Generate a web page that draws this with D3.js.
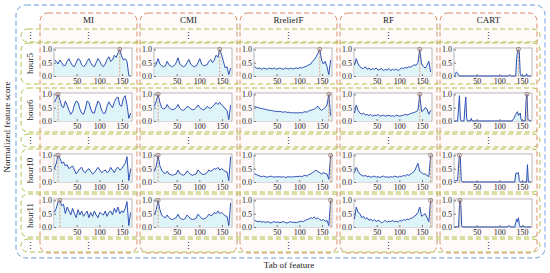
<!DOCTYPE html>
<html>
<head>
<meta charset="utf-8">
<script src="https://cdn.jsdelivr.net/npm/d3@7"></script>
<style>
  body { margin: 0; background: #fff; }
  svg { display: block; }
  text { font-family: "Liberation Serif", "Times New Roman", serif; fill: #222; }
</style>
</head>
<body>
<svg id="FeatureChart"></svg>
<script>
// feature index (tab of feature) at which the scores are read
var featureTab = [1,5,9,13,17,21,25,29,33,37,41,45,49,53,57,61,65,69,73,77,81,85,89,93,97,101,105,109,113,117,121,125,129,133,137,141,145,149,153,157,161,165,169];

var methods = ["MI", "CMI", "RreliefF", "RF", "CART"];
var hours = ["hour5", "hour6", "hour10", "hour11"];
var yTicks = [0, 0.5, 1];
var xTicks = [50, 100, 150];

// hour5
var miHour5 = [0.60,0.55,0.45,0.60,0.50,0.38,0.40,0.55,0.65,0.50, 0.38,0.35,0.50,0.65,0.60,0.42,0.35,0.40,0.55,0.65, 0.50,0.38,0.35,0.50,0.65,0.55,0.40,0.35,0.45,0.62, 0.72,0.55,0.60,0.78,0.70,0.85,1.00,0.75,0.60,0.65, 0.55,0.02,0.00];
var cmiHour5 = [0.35,0.45,0.65,0.45,0.38,0.35,0.38,0.55,0.42,0.38, 0.35,0.40,0.50,0.68,0.45,0.38,0.35,0.38,0.50,0.62, 0.45,0.38,0.35,0.38,0.50,0.65,0.45,0.38,0.40,0.42, 0.55,0.62,0.50,0.60,0.78,0.70,1.00,0.80,0.55,0.30, 0.35,0.05,0.30];
var relHour5 = [0.35,0.30,0.28,0.30,0.25,0.30,0.28,0.25,0.30,0.28, 0.27,0.30,0.25,0.28,0.30,0.27,0.25,0.30,0.28,0.26, 0.30,0.27,0.28,0.30,0.28,0.32,0.30,0.33,0.35,0.38, 0.42,0.45,0.55,0.62,0.72,0.85,1.00,0.60,0.45,0.55, 0.35,0.05,0.60];
var rfHour5 = [0.40,0.65,0.45,0.35,0.30,0.28,0.35,0.25,0.30,0.22, 0.28,0.25,0.30,0.22,0.25,0.28,0.20,0.25,0.22,0.28, 0.20,0.25,0.22,0.27,0.20,0.25,0.30,0.28,0.32,0.30, 0.35,0.33,0.38,0.42,0.40,0.50,1.00,0.45,0.35,0.30, 0.40,0.55,0.15];
var cartHour5 = [[1,0],[3,0.05],[5,0.15],[8,0.1],[10,0.02],[12,0],[120,0],[123,0.05],[125,0],[136,0],[138,0.6],[140,0.95],[142,1],[144,0.9],[146,0.1],[148,0],[158,0],[160,0.08],[162,0],[170,0]];

// hour6
var miHour6 = [0.70,0.85,1.00,0.80,0.55,0.50,0.75,0.60,0.40,0.25, 0.35,0.60,0.75,0.70,0.45,0.30,0.25,0.45,0.75,0.70, 0.45,0.30,0.30,0.55,0.75,0.65,0.40,0.28,0.30,0.55, 0.72,0.60,0.50,0.70,0.85,0.90,0.60,0.55,0.85,0.95, 0.60,0.10,0.30];
var cmiHour6 = [0.55,0.75,1.00,0.70,0.50,0.45,0.48,0.62,0.50,0.45, 0.42,0.45,0.50,0.62,0.48,0.42,0.40,0.45,0.55,0.52, 0.45,0.42,0.44,0.50,0.60,0.50,0.45,0.42,0.45,0.55, 0.50,0.47,0.55,0.60,0.70,0.62,0.70,0.60,0.55,0.45, 0.40,0.05,0.60];
var relHour6 = [0.55,0.52,0.50,0.48,0.47,0.45,0.44,0.42,0.40,0.40, 0.38,0.37,0.36,0.35,0.36,0.34,0.33,0.35,0.32,0.33, 0.30,0.32,0.30,0.31,0.30,0.32,0.30,0.33,0.35,0.33, 0.38,0.40,0.42,0.45,0.50,0.55,0.45,0.40,0.45,0.50, 0.60,1.00,0.20];
var rfHour6 = [0.30,0.60,0.40,0.30,0.25,0.30,0.22,0.25,0.20,0.25, 0.18,0.22,0.20,0.25,0.18,0.20,0.22,0.18,0.20,0.22, 0.18,0.20,0.17,0.22,0.20,0.18,0.20,0.22,0.25,0.22, 0.25,0.28,0.30,0.32,0.35,0.40,1.00,0.35,0.40,0.50, 0.45,0.25,0.40];
var cartHour6 = [[1,0],[8,0],[10,0.5],[12,0.95],[14,0.1],[16,0],[22,0],[24,0.5],[26,0.9],[28,0.1],[30,0],[36,0],[38,0.1],[40,0],[128,0],[132,0.1],[136,0.25],[140,0.35],[142,0.2],[146,0.3],[148,0.05],[150,0],[157,0],[159,0.8],[161,1],[163,0.05],[170,0]];

// hour10
var miHour10 = [0.50,0.70,1.00,0.90,0.70,0.75,0.60,0.65,0.50,0.55, 0.60,0.45,0.30,0.40,0.50,0.55,0.40,0.35,0.45,0.50, 0.40,0.30,0.35,0.45,0.55,0.45,0.35,0.40,0.45,0.35, 0.40,0.55,0.45,0.35,0.50,0.55,0.45,0.50,0.60,0.70, 0.95,0.05,0.50];
var cmiHour10 = [0.40,0.60,1.00,0.60,0.45,0.35,0.32,0.40,0.30,0.28, 0.25,0.28,0.30,0.45,0.32,0.28,0.25,0.30,0.42,0.35, 0.28,0.25,0.28,0.30,0.45,0.38,0.30,0.28,0.30,0.35, 0.45,0.40,0.45,0.50,0.48,0.55,0.45,0.50,0.45,0.40, 0.38,0.05,0.95];
var relHour10 = [0.30,0.28,0.25,0.22,0.20,0.22,0.20,0.18,0.20,0.22, 0.20,0.18,0.20,0.19,0.20,0.18,0.20,0.17,0.19,0.20, 0.18,0.20,0.19,0.21,0.20,0.22,0.20,0.23,0.25,0.22, 0.28,0.30,0.35,0.40,0.45,0.38,0.35,0.30,0.35,0.32, 0.30,0.10,1.00];
var rfHour10 = [0.35,0.55,0.40,0.30,0.25,0.22,0.25,0.20,0.22,0.18, 0.20,0.22,0.18,0.20,0.17,0.20,0.22,0.18,0.20,0.17, 0.20,0.18,0.22,0.20,0.18,0.22,0.20,0.25,0.22,0.28, 0.25,0.30,0.35,0.40,0.55,0.70,0.40,0.35,0.30,0.30, 0.25,0.20,1.00];
var cartHour10 = [[1,0.05],[8,0.05],[10,0.6],[12,1.0],[14,0.9],[16,0.05],[18,0],[134,0],[136,0.3],[138,0.35],[140,0.3],[142,0.35],[144,0.05],[146,0],[160,0],[162,0.65],[164,0],[170,0]];

// hour11
var miHour11 = [0.55,0.70,0.95,1.00,0.80,0.85,0.50,0.75,0.60,0.45, 0.70,0.50,0.35,0.65,0.45,0.60,0.40,0.50,0.60,0.35, 0.55,0.40,0.60,0.45,0.35,0.55,0.50,0.45,0.60,0.40, 0.55,0.60,0.45,0.70,0.55,0.75,0.50,0.60,0.55,0.70, 0.95,0.05,0.55];
var cmiHour11 = [0.45,0.65,1.00,0.65,0.45,0.38,0.35,0.45,0.35,0.30, 0.28,0.32,0.35,0.48,0.35,0.30,0.28,0.32,0.45,0.38, 0.30,0.28,0.30,0.33,0.48,0.40,0.32,0.30,0.32,0.38, 0.48,0.42,0.45,0.55,0.50,0.60,0.50,0.55,0.48,0.42, 0.40,0.05,0.90];
var relHour11 = [0.25,0.22,0.20,0.22,0.18,0.20,0.17,0.20,0.18,0.15, 0.18,0.20,0.17,0.19,0.16,0.18,0.20,0.17,0.15,0.18, 0.20,0.17,0.18,0.16,0.19,0.20,0.22,0.20,0.25,0.28, 0.30,0.35,0.32,0.38,0.30,0.35,0.28,0.25,0.28,0.22, 0.25,0.05,1.00];
var rfHour11 = [0.30,0.75,0.55,0.50,0.35,0.40,0.30,0.35,0.25,0.30, 0.22,0.28,0.20,0.25,0.22,0.15,0.20,0.25,0.18,0.22, 0.20,0.25,0.20,0.22,0.18,0.25,0.22,0.28,0.25,0.30, 0.28,0.32,0.35,0.40,0.45,0.55,0.75,0.40,0.45,0.50, 0.35,0.20,1.00];
var cartHour11 = [[1,0],[10,0],[12,0.8],[13,1.0],[15,0.85],[17,0.05],[19,0],[118,0],[120,0.05],[122,0.05],[124,0],[134,0],[136,0.15],[138,0.3],[140,0.2],[142,0.35],[144,0.1],[146,0],[150,0],[152,0.05],[154,0],[170,0]];

var scores = [
	[miHour5, cmiHour5, relHour5, rfHour5, cartHour5],
	[miHour6, cmiHour6, relHour6, rfHour6, cartHour6],
	[miHour10, cmiHour10, relHour10, rfHour10, cartHour10],
	[miHour11, cmiHour11, relHour11, rfHour11, cartHour11]
];

var svgWidth = 550, svgHeight = 273;
var colX = [40, 140, 240, 340, 440], colW = 97;
var rowTop = [43, 88, 149, 194], rowH = [41, 44, 43, 43];
var dotsTop = [29, 134, 239], dotsH = 13;
var plotW = 78, plotH = 28;

var svg = d3.select("#FeatureChart")
	.attr("width", svgWidth)
	.attr("height", svgHeight);

// outer frame
svg.append("rect")
	.attr("x", 16).attr("y", 5)
	.attr("width", 529).attr("height", 253)
	.attr("rx", 10)
	.attr("fill", "none")
	.attr("stroke", "#6aa0dc")
	.attr("stroke-width", 1)
	.attr("stroke-dasharray", "5,3");

// method columns
svg.selectAll(".col")
	.data(methods)
	.enter().append("rect")
		.attr("class", "col")
		.attr("x", (d, i) => colX[i])
		.attr("y", 13)
		.attr("width", colW)
		.attr("height", 240)
		.attr("rx", 8)
		.attr("fill", "rgba(250,225,225,0.18)")
		.attr("stroke", "#dc8f6a")
		.attr("stroke-width", 1)
		.attr("stroke-dasharray", "5,3");

svg.selectAll(".colTitle")
	.data(methods)
	.enter().append("text")
		.attr("class", "colTitle")
		.attr("x", (d, i) => colX[i] + colW / 2)
		.attr("y", 23)
		.attr("text-anchor", "middle")
		.attr("font-size", 9)
		.text(d => d);

// hour rows and dotted rows
var rowBoxes = rowTop.map((t, i) => ({top: t, h: rowH[i]}))
	.concat(dotsTop.map(t => ({top: t, h: dotsH})));

svg.selectAll(".row")
	.data(rowBoxes)
	.enter().append("rect")
		.attr("class", "row")
		.attr("x", 21)
		.attr("y", d => d.top)
		.attr("width", 519)
		.attr("height", d => d.h)
		.attr("rx", 7)
		.attr("fill", "none")
		.attr("stroke", "#b3c24c")
		.attr("stroke-width", 1)
		.attr("stroke-dasharray", "5,3");

svg.selectAll(".rowLabel")
	.data(hours)
	.enter().append("text")
		.attr("class", "rowLabel")
		.attr("transform", (d, i) => "translate(33," + (rowTop[i] + rowH[i] / 2) + ") rotate(-90)")
		.attr("text-anchor", "middle")
		.attr("font-size", 9)
		.text(d => d);

// vertical ellipsis in the skipped rows
dotsTop.forEach(function(t) {
	var xs = [30].concat(colX.map(x => x + colW / 2));
	svg.selectAll(null)
		.data(xs)
		.enter().append("text")
			.attr("x", d => d)
			.attr("y", t + dotsH / 2 + 3.5)
			.attr("text-anchor", "middle")
			.attr("font-family", "DejaVu Sans")
			.attr("font-size", 9)
			.text("\u22EE");
});

var line = d3.line();
var area = d3.area();

scores.forEach(function(rowScores, r) {
	rowScores.forEach(function(series, c) {
		var pts = c === 4 ? series : series.map((v, i) => [featureTab[i], v]);
		var left = colX[c] + 14, top = rowTop[r] + 5;

		var x = d3.scaleLinear().domain([0, 172]).range([left, left + plotW]);
		var y = d3.scaleLinear().domain([0, 1.05]).range([top + plotH, top]);

		var g = svg.append("g").attr("class", "panel");

		g.append("rect")
			.attr("x", left).attr("y", top)
			.attr("width", plotW).attr("height", plotH)
			.attr("fill", "#fff")
			.attr("stroke", "#9a9a9a")
			.attr("stroke-width", 0.7);

		g.append("path")
			.datum(pts)
			.attr("fill", "#def4f8")
			.attr("d", area.x(d => x(d[0])).y0(y(0)).y1(d => y(d[1])));

		g.append("path")
			.datum(pts)
			.attr("fill", "none")
			.attr("stroke", "#2f50b5")
			.attr("stroke-width", 1)
			.attr("d", line.x(d => x(d[0])).y(d => y(d[1])));

		// best feature marker
		var best = pts[d3.maxIndex(pts, d => d[1])];
		g.append("line")
			.attr("x1", x(best[0])).attr("x2", x(best[0]))
			.attr("y1", y(best[1])).attr("y2", y(0))
			.attr("stroke", "#e08850")
			.attr("stroke-width", 0.8)
			.attr("stroke-dasharray", "2,1.5");
		g.append("circle")
			.attr("cx", x(best[0])).attr("cy", y(best[1]))
			.attr("r", 2)
			.attr("fill", "none")
			.attr("stroke", "#8a6a60")
			.attr("stroke-width", 0.8);

		var ax = g.append("g")
			.attr("transform", "translate(0," + (top + plotH) + ")")
			.call(d3.axisBottom(x).tickValues(xTicks).tickSize(-2).tickPadding(2));
		var ay = g.append("g")
			.attr("transform", "translate(" + left + ",0)")
			.call(d3.axisLeft(y).tickValues(yTicks).tickSize(-2).tickPadding(2));

		[ax, ay].forEach(function(a) {
			a.select(".domain").remove();
			a.selectAll("line").attr("stroke", "#777");
			a.selectAll("text")
				.attr("font-family", "Liberation Serif")
				.attr("font-size", 8)
				.attr("fill", "#222");
		});
	});
});

// axis titles
svg.append("text")
	.attr("x", 289)
	.attr("y", 268)
	.attr("text-anchor", "middle")
	.attr("font-size", 9)
	.text("Tab of feature");

svg.append("text")
	.attr("transform", "translate(10,127) rotate(-90)")
	.attr("text-anchor", "middle")
	.attr("font-size", 9)
	.text("Normalized feature score");
</script>
</body>
</html>
